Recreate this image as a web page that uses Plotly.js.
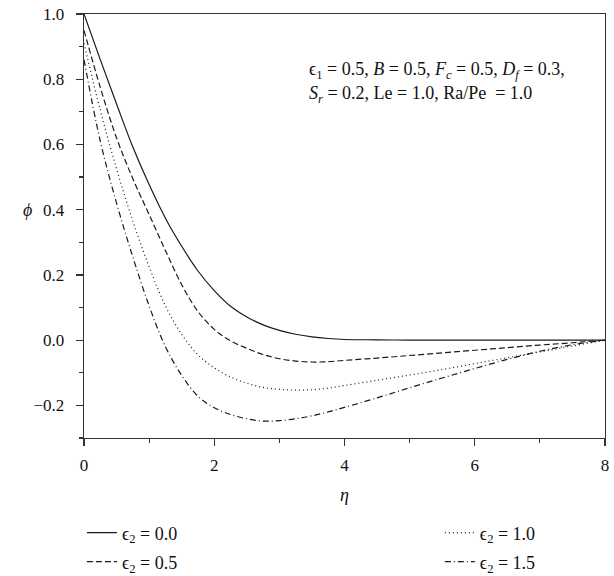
<!DOCTYPE html>
<html>
<head>
<meta charset="utf-8">
<script src="https://cdn.plot.ly/plotly-3.0.1.min.js"></script>
<style>html,body{margin:0;padding:0;background:#fff;}#chart{width:614px;height:576px;}</style>
</head>
<body>
<div id="chart"></div>
<script>
// eta grid
const eta = [0,0.25,0.5,0.75,1,1.25,1.5,1.75,2,2.25,2.5,2.75,3,3.25,3.5,3.75,4,4.5,5,5.5,6,6.5,7,7.5,8];
// phi for eps2 = 0.0
const phiE00 = [1.0,0.86,0.724,0.592,0.477,0.374,0.288,0.212,0.152,0.104,0.071,0.047,0.03,0.018,0.010,0.005,0.002,0.001,0,0,0,0,0,0,0];
// phi for eps2 = 0.5
const phiE05 = [0.95,0.775,0.62,0.495,0.385,0.275,0.17,0.088,0.033,-0.002,-0.025,-0.044,-0.057,-0.064,-0.067,-0.066,-0.062,-0.055,-0.047,-0.039,-0.031,-0.023,-0.015,-0.008,0];
// phi for eps2 = 1.0
const phiE10 = [0.91,0.705,0.525,0.365,0.225,0.105,0.018,-0.045,-0.085,-0.113,-0.132,-0.145,-0.151,-0.153,-0.152,-0.147,-0.139,-0.123,-0.107,-0.090,-0.072,-0.054,-0.036,-0.018,0];
// phi for eps2 = 1.5
const phiE15 = [0.86,0.61,0.42,0.255,0.105,-0.02,-0.108,-0.172,-0.207,-0.228,-0.241,-0.248,-0.247,-0.241,-0.232,-0.220,-0.206,-0.177,-0.146,-0.116,-0.087,-0.059,-0.034,-0.014,0];

const seriesNames = ['ϵ<sub>2</sub> = 0.0','ϵ<sub>2</sub> = 0.5','ϵ<sub>2</sub> = 1.0','ϵ<sub>2</sub> = 1.5'];
const xTickVals = [0,2,4,6,8];
const yTickVals = [-0.2,0,0.2,0.4,0.6,0.8,1.0];
const yTickText = ['−0.2','0.0','0.2','0.4','0.6','0.8','1.0'];
const noteLine1 = 'ϵ<sub>1</sub> = 0.5, <i>B</i> = 0.5, <i>F<sub>c</sub></i> = 0.5, <i>D<sub>f</sub></i> = 0.3,';
const noteLine2 = '<i>S<sub>r</sub></i> = 0.2, Le = 1.0, Ra/Pe  = 1.0';

const FONT = 'Liberation Serif, Times New Roman, DejaVu Serif, serif';
const INK = '#111';
const ys = [phiE00, phiE05, phiE10, phiE15];
const dashes = ['solid','6px,3px','1px,3px','6px,3px,1px,3px'];
const legendIds = ['legend','legend2','legend3','legend4'];

const traces = ys.map((y,i)=>({
  x: eta, y: y, type:'scatter', mode:'lines', name: seriesNames[i],
  line:{color:'#1a1a1a', width:1.2, dash:dashes[i], shape:'spline', smoothing:1},
  legend: legendIds[i], showlegend:true, hoverinfo:'skip'
}));

function leg(xp, yp){
  return {x:xp, y:yp, xref:'paper', yref:'paper', xanchor:'left', yanchor:'middle',
    orientation:'v', bgcolor:'rgba(0,0,0,0)', borderwidth:0, itemwidth:30,
    font:{family:FONT, size:18, color:INK}, itemclick:false, itemdoubleclick:false};
}

const layout = {
  width:614, height:576,
  margin:{l:84, r:9, t:14, b:138, pad:0, autoexpand:false},
  paper_bgcolor:'#fff', plot_bgcolor:'#fff',
  font:{family:FONT, size:17, color:INK},
  xaxis:{
    range:[0,8], tickvals:xTickVals, ticktext:xTickVals.map(String),
    ticks:'outside', ticklen:7, tickwidth:1.2, tickcolor:'#333',
    minor:{dtick:1, ticks:'outside', ticklen:4, tickwidth:1.2, tickcolor:'#333', showgrid:false},
    showline:true, linecolor:'#333', linewidth:1.3, mirror:true, automargin:false,
    showgrid:false, zeroline:false, ticklabelstandoff:4,
    tickfont:{family:FONT, size:17, color:INK},
    title:{text:'<i>η</i>', font:{family:FONT, size:18, color:INK}, standoff:14}
  },
  yaxis:{
    range:[-0.3,1.0], tickvals:yTickVals, ticktext:yTickText,
    ticks:'outside', ticklen:7, tickwidth:1.2, tickcolor:'#333',
    minor:{dtick:0.1, ticks:'outside', ticklen:4, tickwidth:1.2, tickcolor:'#333', showgrid:false},
    showline:true, linecolor:'#333', linewidth:1.3, mirror:true, automargin:false,
    showgrid:false, zeroline:false, ticklabelstandoff:8,
    tickfont:{family:FONT, size:17, color:INK}
  },
  legend: leg(-0.004, -0.224),
  legend2: leg(-0.004, -0.2925),
  legend3: leg(0.683, -0.224),
  legend4: leg(0.683, -0.2925),
  annotations:[
    {text:noteLine1, xref:'paper', yref:'paper', x:0.428, y:0.8656, xanchor:'left', yanchor:'middle',
     align:'left', showarrow:false, font:{family:FONT, size:18, color:INK}},
    {text:noteLine2, xref:'paper', yref:'paper', x:0.428, y:0.8113, xanchor:'left', yanchor:'middle',
     align:'left', showarrow:false, font:{family:FONT, size:18, color:INK}},
    {text:'<i>ϕ</i>', xref:'paper', yref:'y', x:-0.109, y:0.4, xanchor:'center', yanchor:'middle',
     showarrow:false, font:{family:FONT, size:18, color:INK}}
  ],
  showlegend:true
};

Plotly.newPlot('chart', traces, layout, {staticPlot:true, displayModeBar:false});
</script>
</body>
</html>
